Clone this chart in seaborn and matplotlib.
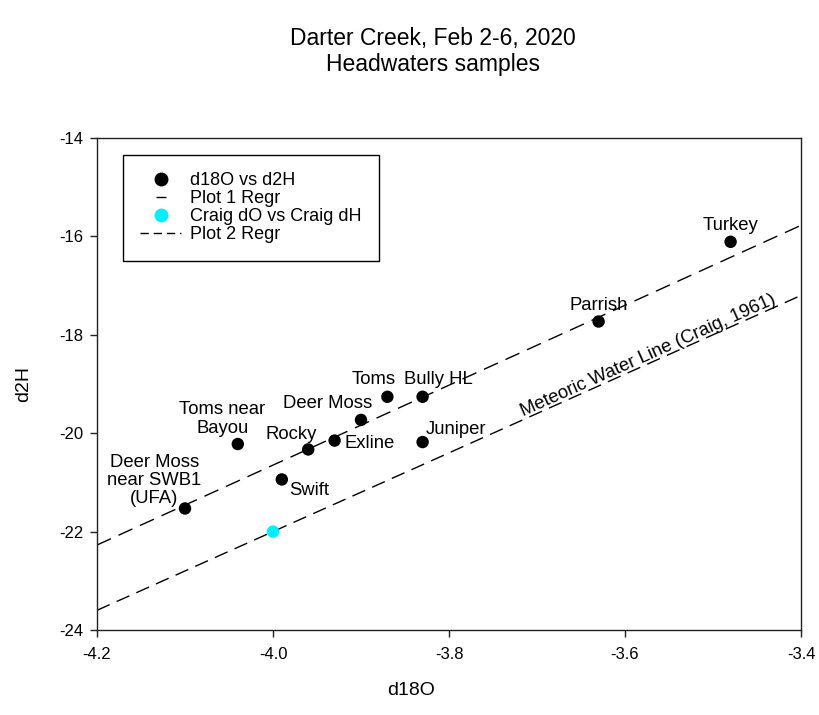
import numpy as np
import pandas as pd
import matplotlib
matplotlib.use('Agg')
import matplotlib.pyplot as plt
from matplotlib.lines import Line2D
import seaborn as sns

# sample data
sample_names = ['Deer Moss\nnear SWB1\n(UFA)', 'Toms near\nBayou', 'Swift', 'Rocky', 'Exline',
                'Deer Moss', 'Toms', 'Bully HL', 'Juniper', 'Parrish', 'Turkey']
d18o = [-4.10, -4.04, -3.99, -3.96, -3.93, -3.90, -3.87, -3.83, -3.83, -3.63, -3.48]
d2h = [-21.53, -20.22, -20.94, -20.33, -20.15, -19.73, -19.26, -19.26, -20.18, -17.73, -16.11]

# Craig (1961) point and meteoric water line
craig_d18o = [-4.0]
craig_d2h = [-22.0]
mwl_slope = 8.0
mwl_intercept = 10.0

x_limits = [-4.2, -3.4]
y_limits = [-24, -14]
x_ticks = [-4.2, -4.0, -3.8, -3.6, -3.4]
y_ticks = [-24, -22, -20, -18, -16, -14]

# label offsets in points (layout only)
label_offsets = {
    'Deer Moss\nnear SWB1\n(UFA)': (-22, 20),
    'Toms near\nBayou': (-11, 18),
    'Swift': (20, -8),
    'Rocky': (-12, 11),
    'Exline': (25, -2),
    'Deer Moss': (-24, 11.5),
    'Toms': (-10, 12.5),
    'Bully HL': (11, 12.5),
    'Juniper': (24, 9),
    'Parrish': (0, 11.5),
    'Turkey': (0, 12),
}

df = pd.DataFrame({'name': sample_names, 'd18O': d18o, 'd2H': d2h})
craig = pd.DataFrame({'d18O': craig_d18o, 'd2H': craig_d2h})

sns.set_style('ticks')
plt.rcParams['font.family'] = ['Liberation Sans', 'DejaVu Sans']
plt.rcParams['axes.unicode_minus'] = False
plt.rcParams['text.color'] = 'black'
plt.rcParams['axes.labelcolor'] = 'black'
plt.rcParams['xtick.color'] = 'black'
plt.rcParams['ytick.color'] = 'black'

fig = plt.figure(figsize=(8.2, 7.15), dpi=100)
ax = fig.add_axes([97 / 820, 85 / 715, 704 / 820, 492 / 715])
ax.set_xlim(x_limits)
ax.set_ylim(y_limits)

# Plot 1 regression over the full axis range
sns.regplot(data=df, x='d18O', y='d2H', ax=ax, scatter=False, ci=None, truncate=False,
            line_kws={'color': 'black', 'lw': 1.0, 'dashes': (11, 6)})

# meteoric water line
mwl = pd.DataFrame({'d18O': x_limits})
mwl['d2H'] = mwl_slope * mwl['d18O'] + mwl_intercept
sns.lineplot(data=mwl, x='d18O', y='d2H', ax=ax, color='black', lw=1.0)
ax.lines[-1].set_dashes((10, 5.5))

sns.scatterplot(data=df, x='d18O', y='d2H', ax=ax, color='black', s=80, edgecolor='none', zorder=5)
sns.scatterplot(data=craig, x='d18O', y='d2H', ax=ax, color='#00f0ff', s=80, edgecolor='none', zorder=5)

for name, x, y in zip(sample_names, d18o, d2h):
    ax.annotate(name, (x, y), xytext=label_offsets[name], textcoords='offset points',
                ha='center', va='center', fontsize=13.3, linespacing=1.1, multialignment='center')

# text along the meteoric water line
x0 = -3.714
p1 = ax.transData.transform((x_limits[0], mwl_slope * x_limits[0] + mwl_intercept))
p2 = ax.transData.transform((x_limits[1], mwl_slope * x_limits[1] + mwl_intercept))
angle = np.degrees(np.arctan2(p2[1] - p1[1], p2[0] - p1[0]))
lift = 1.8
ax.annotate('Meteoric Water Line (Craig, 1961)', (x0, mwl_slope * x0 + mwl_intercept),
            xytext=(-lift * np.sin(np.radians(angle)), lift * np.cos(np.radians(angle))),
            textcoords='offset points', rotation=angle, rotation_mode='anchor',
            ha='left', va='baseline', fontsize=13.3)

ax.set_xticks(x_ticks)
ax.set_yticks(y_ticks)
ax.set_xticklabels([f'{v:.1f}' for v in x_ticks])
ax.set_yticklabels([f'{v:d}' for v in y_ticks])
ax.tick_params(axis='x', direction='out', length=5, width=1, labelsize=12, pad=7, color='#222222')
ax.tick_params(axis='y', direction='out', length=5, width=1, labelsize=12, pad=5, color='#222222')
for side in ['top', 'right', 'bottom', 'left']:
    ax.spines[side].set_visible(True)
    ax.spines[side].set_color('#222222')
    ax.spines[side].set_linewidth(1.0)

ax.set_xlabel('d18O', fontsize=14)
ax.set_ylabel('d2H', fontsize=14)
ax.xaxis.set_label_coords(0.446, -0.105)
ax.yaxis.set_label_coords(-0.092, 0.5)

handles = [
    Line2D([], [], color='black', marker='o', linestyle='none', markersize=9),
    Line2D([], [], color='black', marker='_', linestyle='none', markersize=7),
    Line2D([], [], color='#00f0ff', marker='o', linestyle='none', markersize=9),
    Line2D([], [], color='black', lw=1.0, dashes=(6, 3.5)),
]
labels = ['d18O vs d2H', 'Plot 1 Regr', 'Craig dO vs Craig dH', 'Plot 2 Regr']
leg = ax.legend(handles, labels, loc='upper left', bbox_to_anchor=(0.0365, 0.9654),
                borderaxespad=0, fontsize=13, frameon=True, fancybox=False, framealpha=1,
                edgecolor='black', borderpad=0.95, handlelength=2.3, handletextpad=0.5,
                labelspacing=0.06)
leg.get_frame().set_linewidth(1.0)

fig.text(0.528, 1 - 39 / 715, 'Darter Creek, Feb 2-6, 2020', ha='center', va='center', fontsize=16.5)
fig.text(0.528, 1 - 64 / 715, 'Headwaters samples', ha='center', va='center', fontsize=16.5)

fig.savefig('out.png', dpi=100)
